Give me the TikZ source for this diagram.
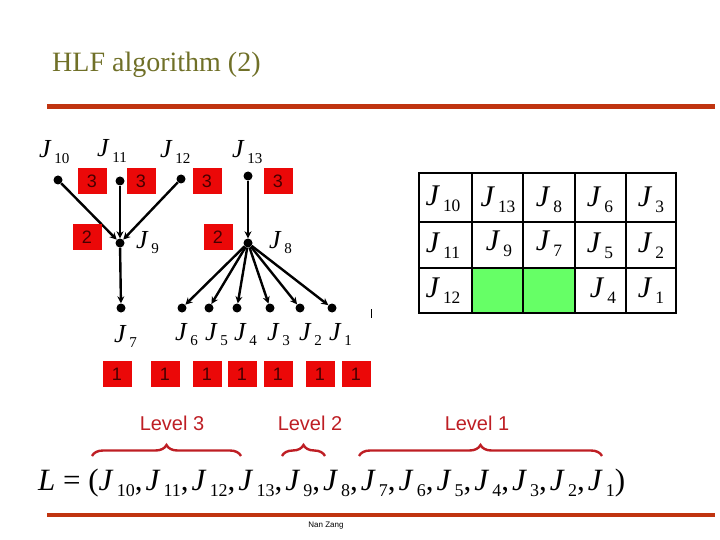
\documentclass[tikz,border=0pt]{standalone}
\usepackage{fontspec}
\usepackage{graphicx}
\setmainfont{Liberation Serif}
\newfontfamily\arialfont{Liberation Sans}
\usetikzlibrary{arrows.meta,decorations.pathreplacing}

\definecolor{slidered}{RGB}{192,52,16}
\definecolor{titleolive}{RGB}{112,112,40}
\definecolor{boxred}{RGB}{235,8,8}
\definecolor{numtext}{RGB}{70,0,0}
\definecolor{levelred}{RGB}{190,30,36}
\definecolor{cellgreen}{RGB}{102,255,102}

\newcommand{\job}[1]{\textit{J}\kern0.1em\raisebox{-0.2em}{\scalebox{0.58}{#1}}}

\begin{document}
\begin{tikzpicture}[x=1pt,y=-1pt,
  dot/.style={circle,fill=black,inner sep=0pt,minimum size=9pt},
  jlab/.style={inner sep=0pt,anchor=base west,font=\fontsize{26}{26}\selectfont},
  numbox/.style={fill=boxred,inner sep=0pt,minimum width=29pt,minimum height=26pt,
    font=\arialfont\fontsize{18}{18}\selectfont,text=numtext},
  arr/.style={line width=2.4pt,-{Stealth[length=7pt,width=7pt]}},
  cell/.style={inner sep=0pt,anchor=base,font=\fontsize{30}{30}\selectfont},
  lvl/.style={text=levelred,font=\arialfont\fontsize{20}{20}\selectfont},
  lbrace/.style={levelred,line width=2.4pt,decorate,decoration={brace,amplitude=11pt}}]

\useasboundingbox (0,0) rectangle (720,540);

% title and rules
\node[anchor=base west,inner sep=0pt,text=titleolive,font=\fontsize{28}{28}\selectfont] (title) at (52,72) {HLF algorithm (2)};
\draw[slidered,line width=5pt] (47,107) -- (715,107);
\draw[slidered,line width=4pt] (47,515) -- (715,515);
\node[font=\arialfont\fontsize{8}{8}\selectfont] (author) at (326,526) {Nan Zang};

% the jobs
\node[dot] (j10) at (58,180) {};
\node[dot] (j11) at (120,181) {};
\node[dot] (j12) at (181,179) {};
\node[dot] (j13) at (248,176) {};
\node[dot] (j9) at (120,243) {};
\node[dot] (j8) at (248,243) {};
\node[dot] (j7) at (121,308) {};
\foreach \n/\x in {6/182,5/209,4/237,3/270,2/300,1/332}
  \node[dot] (j\n) at (\x,308) {};

\node[jlab] (l10) at (39,158) {\job{10}};
\node[jlab] (l11) at (97,157) {\job{11}};
\node[jlab] (l12) at (160,158) {\job{12}};
\node[jlab] (l13) at (232,158) {\job{13}};
\node[jlab] (l9) at (136,248) {\job{9}};
\node[jlab] (l8) at (269,248) {\job{8}};
\node[jlab] (l7) at (114,342) {\job{7}};
\foreach \n/\x in {6/175,5/205,4/234,3/267,2/299,1/329}
  \node[jlab] (l\n) at (\x,340) {\job{\n}};

% arrows
\foreach \s in {10,11,12}
  \draw[arr] (j\s) -- (j9);
\draw[arr] (j13) -- (j8);
\draw[arr] (j9) -- (j7);
\foreach \t in {6,5,4,3,2,1}
  \draw[arr] (j8) -- (j\t);
\draw[line width=0.6pt] (371,309) -- (371,318);

% levels
\foreach \x [count=\i] in {92,141,207,278}
  \node[numbox] (b3\i) at (\x,181) {3};
\node[numbox] (b21) at (87,237) {2};
\node[numbox] (b22) at (218,237) {2};
\foreach \x [count=\i] in {117,165,207,242,278,320,356}
  \node[numbox] (b1\i) at (\x,374) {1};

% table
\fill[cellgreen] (472,268) rectangle (575,313);
\draw[line width=2pt] (419,173) rectangle (676,313);
\foreach \x in {472,523,575,626}
  \draw[line width=2pt] (\x,173) -- (\x,313);
\foreach \y in {222,268}
  \draw[line width=2pt] (419,\y) -- (676,\y);
\foreach \n/\x/\y in {10/443/206,13/498/207,8/549/207,6/600/207,3/651/207,
                      11/443/252,9/499/251,7/549/251,5/600/252,2/651/252,
                      12/443/297,4/603/297,1/651/297}
  \node[cell] (c\n) at (\x,\y) {\job{\n}};

% the list
\node[anchor=base west,inner sep=0pt,font=\fontsize{31}{31}\selectfont] (list) at (38,490)
  {\textit{L} = (\job{10},\kern3pt\job{11},\kern3pt\job{12},\kern3pt\job{13},\kern3pt\job{9},\kern3pt\job{8},\kern3pt\job{7},\kern3pt\job{6},\kern3pt\job{5},\kern3pt\job{4},\kern3pt\job{3},\kern3pt\job{2},\kern3pt\job{1})};

\coordinate (b3l) at (92,456);
\coordinate (b3r) at (241,456);
\coordinate (b2l) at (282,456);
\coordinate (b2r) at (325,456);
\coordinate (b1l) at (359,456);
\coordinate (b1r) at (602,456);
\draw[lbrace] (b3l) -- (b3r);
\draw[lbrace] (b2l) -- (b2r);
\draw[lbrace] (b1l) -- (b1r);
\node[lvl] (lv3) at (172,423) {Level 3};
\node[lvl] (lv2) at (310,423) {Level 2};
\node[lvl] (lv1) at (477,423) {Level 1};
\end{tikzpicture}
\end{document}
